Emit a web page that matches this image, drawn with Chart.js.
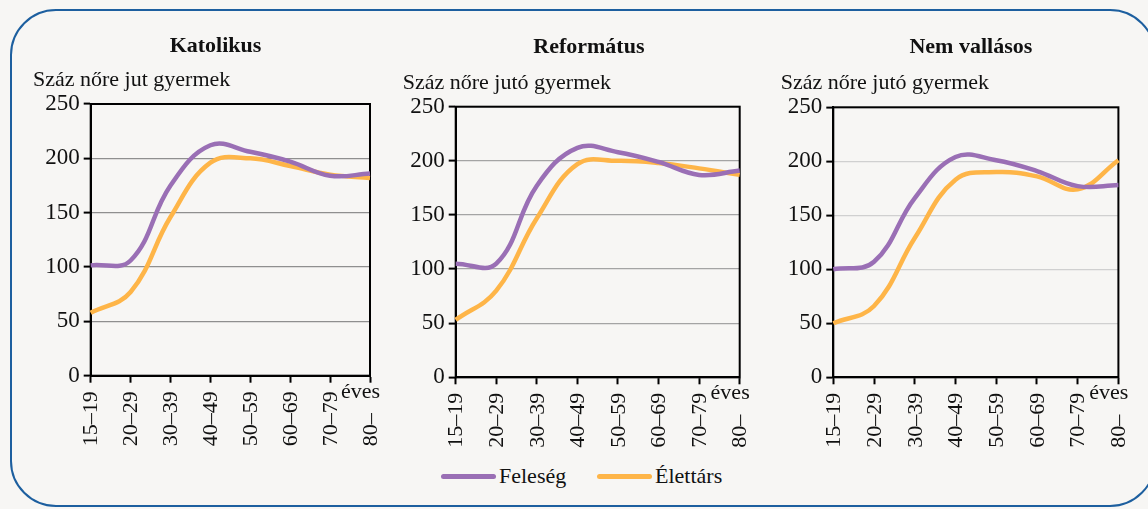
<!DOCTYPE html>
<html><head><meta charset="utf-8">
<script src="https://cdn.jsdelivr.net/npm/chart.js@4.4.1/dist/chart.umd.min.js"></script>
<style>
html,body{margin:0;padding:0;background:#f7f6f4;overflow:hidden;width:1148px;height:509px;position:relative}
#frame{position:absolute;left:10px;top:9px;width:1146px;height:498px;border:2px solid #1d5f9f;border-radius:46px;box-sizing:border-box}
canvas{position:absolute;top:0}
.leg{position:absolute;top:462px;height:28px;display:flex;align-items:center;font-family:'Liberation Serif',serif;font-size:22px;color:#111}
.sw{display:inline-block;width:55px;height:5px;border-radius:3px;margin-right:3px}
</style></head>
<body>
<div id="frame"></div>
<canvas id="c1" width="378" height="460" style="left:20px"></canvas>
<canvas id="c2" width="380" height="460" style="left:395px"></canvas>
<canvas id="c3" width="386" height="460" style="left:775px"></canvas>
<div class="leg" style="left:441px"><span class="sw" style="background:#9a6fb5"></span><span>Feleség</span></div>
<div class="leg" style="left:597px"><span class="sw" style="background:#feb548"></span><span>Élettárs</span></div>
<script>
const categories = ['15–19','20–29','30–39','40–49','50–59','60–69','70–79','80–'];
const yTicks = [0, 50, 100, 150, 200, 250];
const seriesNames = ['Feleség', 'Élettárs'];
const panelTitles = ['Katolikus', 'Református', 'Nem vallásos'];
const axisLabels = ['Száz nőre jut gyermek', 'Száz nőre jutó gyermek', 'Száz nőre jutó gyermek'];
const xUnit = 'éves';
const katolikusFeleseg = [101.5, 106, 175, 212, 206, 197, 184, 186];
const katolikusElettars = [58, 77, 146, 196, 200, 193, 185, 182];
const reformatusFeleseg = [105, 105, 177, 212, 208, 199, 187, 191];
const reformatusElettars = [53, 80, 147, 197, 200, 198, 193, 187];
const nemvallasosFeleseg = [100, 107, 166, 204, 201, 191, 177, 178];
const nemvallasosElettars = [50, 66, 129, 183, 190, 186, 174, 201];

const FONT = "'Liberation Serif', serif";
const TXT = '#111';
const PURPLE = '#9a6fb5', ORANGE = '#feb548';

const framePlugin = {
  id: 'plotFrame',
  beforeDatasetsDraw(chart) {
    const a = chart.chartArea, ctx = chart.ctx;
    ctx.save();
    ctx.strokeStyle = '#000';
    ctx.lineWidth = 2;
    ctx.strokeRect(a.left, a.top, a.right - a.left, a.bottom - a.top);
    ctx.restore();
  },
  afterDraw(chart) {
    const a = chart.chartArea, ctx = chart.ctx, xs = chart.scales.x;
    ctx.save();
    ctx.font = '22px ' + FONT;
    ctx.fillStyle = TXT;
    // rotated category labels, starting from a common baseline line and reading upward
    ctx.textAlign = 'left';
    ctx.textBaseline = 'middle';
    chart.data.labels.forEach((lab, i) => {
      const x = xs.getPixelForTick(i);
      ctx.save();
      ctx.translate(x + 1, a.bottom + 70.5);
      ctx.rotate(-Math.PI / 2);
      ctx.fillText(lab, 0, 0);
      ctx.restore();
    });
    ctx.textAlign = 'right';
    ctx.textBaseline = 'alphabetic';
    ctx.fillText(xUnit, a.right + 10, a.bottom + 22);
    ctx.restore();
  }
};

function makeChart(id, g, title, sub, d1, d2) {
  return new Chart(document.getElementById(id), {
    type: 'line',
    data: {
      labels: categories,
      datasets: [
        {label: seriesNames[0], data: d1, borderColor: PURPLE, backgroundColor: PURPLE, borderWidth: 4.5, pointRadius: 0, tension: 0.4, yAxisID: 'y'},
        {label: seriesNames[1], data: d2, borderColor: ORANGE, backgroundColor: ORANGE, borderWidth: 4.5, pointRadius: 0, tension: 0.4, yAxisID: 'y'}
      ]
    },
    options: {
      responsive: false,
      animation: false,
      layout: {padding: {left: g.padL, right: 0, top: 0, bottom: 0}},
      plugins: {
        legend: {display: false},
        tooltip: {enabled: false},
        title: {display: true, text: title, align: 'center', color: TXT,
          font: {family: FONT, size: 22, weight: 'bold', lineHeight: 1.2},
          padding: {top: g.tTop, bottom: 0}},
        subtitle: {display: true, text: sub, align: 'start', color: TXT,
          font: {family: FONT, size: 22, lineHeight: 1.2},
          padding: {top: g.sTop, bottom: g.sBot}}
      },
      scales: {
        x: {
          offset: false,
          grid: {display: true, drawOnChartArea: false, drawTicks: true, tickLength: 7, tickColor: '#000', tickWidth: 2},
          border: {display: true, color: '#000', width: 2},
          ticks: {display: false, autoSkip: false},
          afterFit(s) { s.height = g.xH; }
        },
        y: {
          min: 0, max: 250,
          afterBuildTicks(s) { s.ticks = yTicks.map(v => ({value: v})); },
          grid: {color: g.grid, lineWidth: 1.2, tickLength: 7, tickColor: '#000', tickWidth: 2},
          border: {display: true, color: '#000', width: 2},
          ticks: {color: TXT, font: {family: FONT, size: 23}, padding: 4},
          afterFit(s) { s.width = g.yW; }
        },
        yR: {
          position: 'right', display: true,
          grid: {display: false}, border: {display: false}, ticks: {display: false},
          afterFit(s) { s.width = g.rW; }
        }
      }
    },
    plugins: [framePlugin]
  });
}

makeChart('c1', {padL: 13, yW: 57.7, rW: 28, tTop: 32.8, sTop: 7.6, sBot: 10.8, xH: 84.3, grid: '#8f8f8f'},
  panelTitles[0], axisLabels[0], katolikusFeleseg, katolikusElettars);
makeChart('c2', {padL: 7.7, yW: 53, rW: 35.3, tTop: 34.6, sTop: 8.8, sBot: 10.5, xH: 82.7, grid: '#a4a4a4'},
  panelTitles[1], axisLabels[1], reformatusFeleseg, reformatusElettars);
makeChart('c3', {padL: 5.7, yW: 52.6, rW: 42.6, tTop: 34.6, sTop: 8.8, sBot: 11.1, xH: 82.7, grid: '#d0d0d0'},
  panelTitles[2], axisLabels[2], nemvallasosFeleseg, nemvallasosElettars);
</script>
</body></html>
